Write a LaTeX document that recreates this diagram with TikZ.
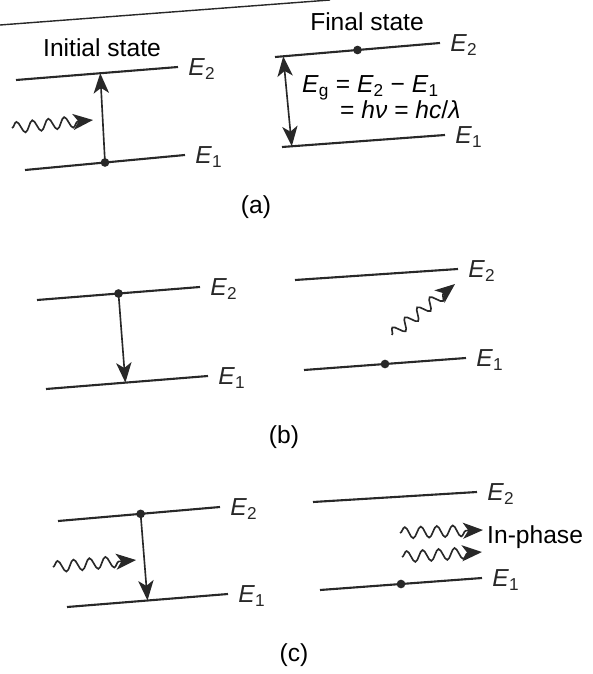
\documentclass[tikz,border=0pt]{standalone}
\usepackage{fontspec}
\setmainfont{Liberation Sans}
\usetikzlibrary{arrows.meta,decorations.pathmorphing}
\definecolor{inkgray}{RGB}{40,40,40}
\newcommand{\enlev}[1]{\textit{E}\textsubscript{#1}}

\begin{document}
\begin{tikzpicture}[x=0.3mm,y=-0.3mm,
    enline/.style={inkgray,line width=1.8pt},
    lablev/.style={anchor=west,inner sep=0pt,xshift=2.8mm,yshift=-0.6mm,font=\fontsize{21}{24}\selectfont},
    txt/.style={font=\fontsize{21}{24}\selectfont,inner sep=0pt},
    trans/.style={inkgray,line width=1.4pt,-{Stealth[length=6mm,width=4.6mm,inset=1.6mm]}},
    gaparrow/.style={inkgray,line width=1.4pt,{Stealth[length=6mm,width=4.6mm,inset=1.6mm]}-{Stealth[length=6mm,width=4.6mm,inset=1.6mm]}},
    photon/.style={inkgray,line width=1.4pt,decorate,
        decoration={snake,amplitude=1.7mm,segment length=4.8mm,post length=3.5mm},
        -{Stealth[length=6mm,width=4.8mm,inset=1.6mm]}},
    elec/.style={circle,fill=inkgray,inner sep=0pt,minimum size=2.6mm}]
  \useasboundingbox (0,0) rectangle (592,674);
  \draw[inkgray,line width=1.2pt] (0,25) -- (330,0);
  % (a) absorption
  \node[txt] (initlab) at (102,48) {Initial state};
  \draw[enline] (16,80) -- coordinate[pos=0.52] (aiup) (178,67) node[lablev] (aiE2) {\enlev{2}};
  \draw[enline] (25,170) -- coordinate[pos=0.5] (aidn) (185,155) node[lablev] (aiE1) {\enlev{1}};
  \node[elec] (aiel) at (aidn) {};
  \draw[trans] (aiel.center) -- (aiup);
  \coordinate (aphA) at (12,128);
  \coordinate (aphB) at (93,120);
  \draw[photon] (aphA) -- (aphB);
  \node[txt] (finlab) at (367,22) {Final state};
  \draw[enline] (275,57) -- coordinate[pos=0.05] (afup) coordinate[pos=0.5] (afdot) (440,43) node[lablev] (afE2) {\enlev{2}};
  \draw[enline] (282,147) -- coordinate[pos=0.06] (afdn) (445,135) node[lablev] (afE1) {\enlev{1}};
  \node[elec] (afel) at (afdot) {};
  \draw[gaparrow] (afup) -- (afdn);
  \node[txt,anchor=west] (egap) at (302,88) {\enlev{g} = \enlev{2} − \enlev{1}};
  \node[txt,anchor=west] (ephot) at (340,110) {= \textit{hν} = \textit{hc}/\textit{λ}};
  \node[txt] (capa) at (256,207) {(a)};
  % (b) spontaneous emission
  \draw[enline] (37,300) -- coordinate[pos=0.5] (blup) (200,287) node[lablev] (blE2) {\enlev{2}};
  \draw[enline] (46,389) -- coordinate[pos=0.49] (bldn) (208,376) node[lablev] (blE1) {\enlev{1}};
  \node[elec] (blel) at (blup) {};
  \draw[trans] (blel.center) -- (bldn);
  \draw[enline] (295,280) -- (458,269) node[lablev] (brE2) {\enlev{2}};
  \draw[enline] (304,370) -- coordinate[pos=0.5] (brdot) (466,358) node[lablev] (brE1) {\enlev{1}};
  \node[elec] (brel) at (brdot) {};
  \coordinate (bphA) at (392,335);
  \coordinate (bphB) at (455,284);
  \draw[photon] (bphA) -- (bphB);
  \node[txt] (capb) at (284,437) {(b)};
  % (c) stimulated emission
  \draw[enline] (58,521) -- coordinate[pos=0.51] (clup) (220,507) node[lablev] (clE2) {\enlev{2}};
  \draw[enline] (67,607) -- coordinate[pos=0.5] (cldn) (228,594) node[lablev] (clE1) {\enlev{1}};
  \node[elec] (clel) at (clup) {};
  \draw[trans] (clel.center) -- (cldn);
  \coordinate (cphA) at (53,567);
  \coordinate (cphB) at (136,560);
  \draw[photon] (cphA) -- (cphB);
  \draw[enline] (313,502) -- (477,492) node[lablev] (crE2) {\enlev{2}};
  \draw[enline] (320,590) -- coordinate[pos=0.5] (crdot) (482,578) node[lablev] (crE1) {\enlev{1}};
  \node[elec] (crel) at (crdot) {};
  \coordinate (cphC) at (400,533);
  \coordinate (cphD) at (483,530);
  \coordinate (cphE) at (402,557);
  \coordinate (cphF) at (482,552);
  \draw[photon] (cphC) -- (cphD);
  \draw[photon] (cphE) -- (cphF);
  \node[txt,anchor=west] (inph) at (487,537) {In-phase};
  \node[txt] (capc) at (294,655) {(c)};
\end{tikzpicture}
\end{document}
